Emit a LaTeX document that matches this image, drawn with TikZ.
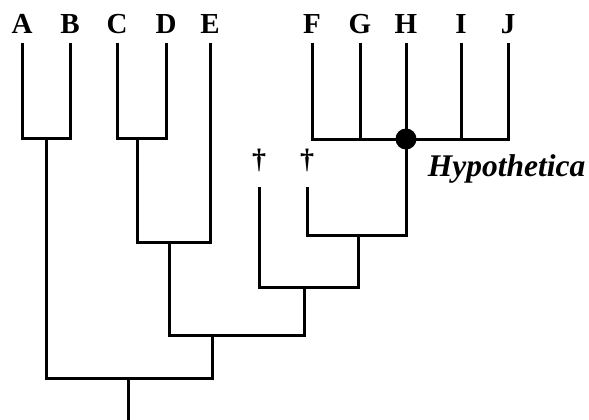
\documentclass[tikz,border=0pt]{standalone}
\usepackage{fontspec}
\setmainfont{Liberation Serif}
\usetikzlibrary{positioning}

\begin{document}
\begin{tikzpicture}[x=1pt, y=-1pt, line width=3pt,
    taxon/.style={anchor=base, font=\fontsize{29}{31}\selectfont\bfseries},
    extinct/.style={font=\fontsize{28}{30}\selectfont\bfseries},
    group/.style={anchor=base west, font=\fontsize{31.5}{34}\selectfont\bfseries\itshape}]
    \useasboundingbox (0,0) rectangle (589,420);

    % Taxa
    \node[taxon] (A) at (22,34) {A};
    \node[taxon] (B) at (70,34) {B};
    \node[taxon] (C) at (117,34) {C};
    \node[taxon] (D) at (166,34) {D};
    \node[taxon] (E) at (210,34) {E};
    \node[taxon] (F) at (312,34) {F};
    \node[taxon] (G) at (360,34) {G};
    \node[taxon] (H) at (406,34) {H};
    \node[taxon] (I) at (461,34) {I};
    \node[taxon] (J) at (508,34) {J};

    % Fossils
    \node[extinct] (d1) at (259,160) {†};
    \node[extinct] (d2) at (307,160) {†};

    % Branch tips
    \foreach \t/\x in {A/22, B/70, C/117, D/166, E/210, F/312, G/360, H/406, I/461, J/508}
        \coordinate (t\t) at (\x,43);
    \coordinate (tX1) at (259,187);
    \coordinate (tX2) at (307,187);

    % Internal nodes
    \coordinate (ab) at (46,138);
    \coordinate (cd) at (137,138);
    \coordinate (fj) at (406,139);
    \coordinate (cde) at (169,242);
    \coordinate (x2h) at (358,235);
    \coordinate (x1h) at (304,287);
    \coordinate (inner) at (212,335);
    \coordinate (root) at (128,378);
    \coordinate (base) at (128,420);

    % Branches
    \draw (tA) |- (ab) -| (tB);
    \draw (tC) |- (cd) -| (tD);
    \draw (tF) |- (fj) -| (tJ);
    \draw (tG) -- (tG |- fj);
    \draw (tH) -- (fj);
    \draw (tI) -- (tI |- fj);
    \draw (cd) |- (cde) -| (tE);
    \draw (tX2) |- (x2h) -| (fj);
    \draw (tX1) |- (x1h) -| (x2h);
    \draw (cde) |- (inner) -| (x1h);
    \draw (ab) |- (root) -| (inner);
    \draw (root) -- (base);

    % Named clade
    \fill (fj) circle (10.5);
    \node[group] (hypo) at (423,176) {Hypothetica};
\end{tikzpicture}
\end{document}
